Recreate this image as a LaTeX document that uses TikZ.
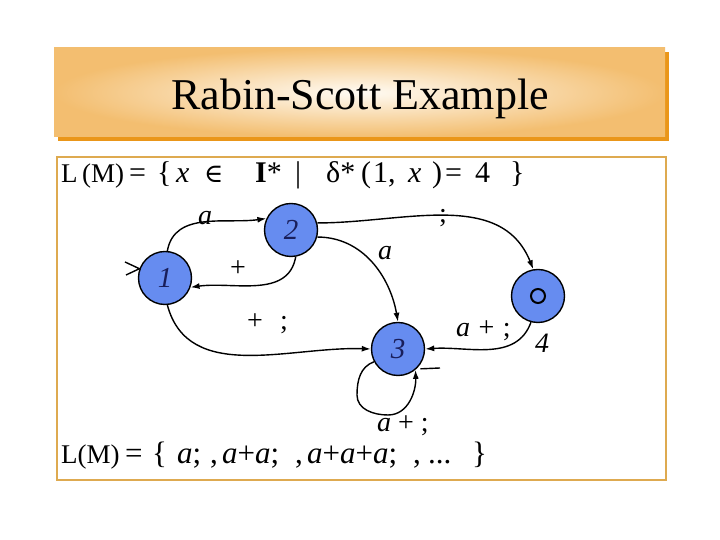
\documentclass[tikz,border=0pt]{standalone}
\usepackage{fontspec}
\setmainfont{Liberation Serif}
\newfontfamily\symfont{DejaVu Serif}
\usetikzlibrary{arrows.meta}
\definecolor{nodeblue}{RGB}{102,140,240}
\definecolor{tanedge}{RGB}{243,190,112}
\definecolor{tancenter}{RGB}{255,251,244}
\definecolor{shadoworange}{RGB}{234,150,25}
\definecolor{frameorange}{RGB}{222,170,80}
\definecolor{digitblue}{RGB}{25,30,90}
\begin{document}
\begin{tikzpicture}[x=1pt,y=1pt,
  state/.style={circle,draw=black,line width=1.4pt,fill=nodeblue,minimum size=53pt,inner sep=0pt,font=\fontsize{29}{32}\selectfont\itshape,text=digitblue},
  edge/.style={line width=1.4pt,-{Latex[length=9pt,width=6pt]}},
  lbl/.style={inner sep=0pt,font=\fontsize{28}{32}\selectfont},
  txt/.style={anchor=base west,inner sep=0pt,font=\fontsize{30}{34}\selectfont},
  txtb/.style={anchor=base west,inner sep=0pt,font=\fontsize{31}{34}\selectfont}]
\useasboundingbox[fill=white] (0,0) rectangle (720,540);
% title bar
\fill[shadoworange] (58,399) rectangle (669,488);
\shade[inner color=tancenter,outer color=tanedge] (54,403) rectangle (665,492);
\node[anchor=base,inner sep=0pt,font=\fontsize{44}{50}\selectfont] (title) at (360,430) {Rabin-Scott Example};
% content frame
\draw[frameorange,line width=2.5pt] (57,60) rectangle (666,383);
% first line
\node[txt,font=\fontsize{27}{32}\selectfont] (l1a) at (61,357) {L\,(M)};
\node[txt] (l1b) at (129,357) {=};
\node[txt] (l1c) at (157,357) {\{};
\node[txt] (l1d) at (176,357) {\itshape x};
\node[txt] (l1e) at (204,357) {\symfont\fontsize{26}{30}\selectfont ∈};
\node[txt] (l1f) at (255,357) {\bfseries I\mdseries*};
\node[txt] (l1g) at (295,357) {|};
\node[txt] (l1h) at (326,357) {δ*};
\node[txt] (l1i) at (361,357) {(};
\node[txt] (l1j) at (373,357) {1,};
\node[txt] (l1k) at (408,357) {\itshape x};
\node[txt] (l1l) at (432,357) {)};
\node[txt] (l1m) at (445,357) {=};
\node[txt] (l1n) at (475,357) {4};
\node[txt] (l1o) at (510,357) {\}};
% last line
\node[txtb,font=\fontsize{27}{32}\selectfont] (l2a) at (61,76) {L(M)};
\node[txtb] (l2b) at (125,76) {=};
\node[txtb] (l2c) at (152,76) {\{};
\node[txtb] (l2d) at (177,76) {\itshape a\upshape;};
\node[txtb] (l2e) at (210,76) {,};
\node[txtb] (l2f) at (222,76) {\itshape a\upshape+\itshape a\upshape;};
\node[txtb] (l2g) at (295,76) {,};
\node[txtb] (l2h) at (307,76) {\itshape a\upshape+\itshape a\upshape+\itshape a\upshape;};
\node[txtb] (l2i) at (413,76) {,};
\node[txtb] (l2j) at (428,76) {...};
\node[txtb] (l2k) at (472,76) {\}};
% states
\node[state] (n1) at (165,262) {1};
\node[state] (n2) at (291,310) {2};
\node[state] (n3) at (398,191) {3};
\node[state] (n4) at (538,244) {};
\draw[line width=2pt] (n4.center) circle (7);
% start marker
\coordinate (s1) at (125,278);
\coordinate (s2) at (126,265);
\draw[line width=1.4pt] (s1) -- (n1.160) -- (s2);
% transitions
\draw[edge] (n1.85) to[out=80,in=188] (n2.155);
\draw[edge] (n2.-80) to[out=-100,in=8] (n1.-20);
\draw[edge] (n1.-85) to[out=-75,in=178] (n3.west);
\draw[edge] (n2.-15) to[out=0,in=100] (n3.north);
\draw[edge] (n2.15) to[out=0,in=112] (n4.100);
\draw[edge] (n4.-105) to[out=-110,in=4] (n3.east);
% self loop
\coordinate (lp1) at (357,145);
\coordinate (lp2) at (388,125);
\coordinate (lp3) at (440,172);
\draw[edge] (n3.-152) to[out=200,in=90] (lp1) to[out=-90,in=180] (lp2) to[out=0,in=-88] (n3.-50);
\draw[line width=1.4pt] (n3.-50) ++(5,1) -- (lp3);
% labels
\node[lbl] (la12) at (205,322) {\itshape a};
\node[lbl] (lp21) at (238,271) {+};
\node[lbl] (lp13a) at (255,218) {+};
\node[lbl,anchor=base] (lp13b) at (284,210) {;};
\node[lbl] (la23) at (385,287) {\itshape a};
\node[lbl] (ls24) at (443,322) {;};
\node[lbl,anchor=base west] (la43) at (456,203) {\itshape a\upshape\hspace{0.3em}+\hspace{0.3em};};
\node[lbl,anchor=base west] (l4) at (535,187) {\itshape 4};
\node[lbl,anchor=base west] (la33) at (377,108) {\itshape a\upshape\ +\ ;};
\end{tikzpicture}
\end{document}
